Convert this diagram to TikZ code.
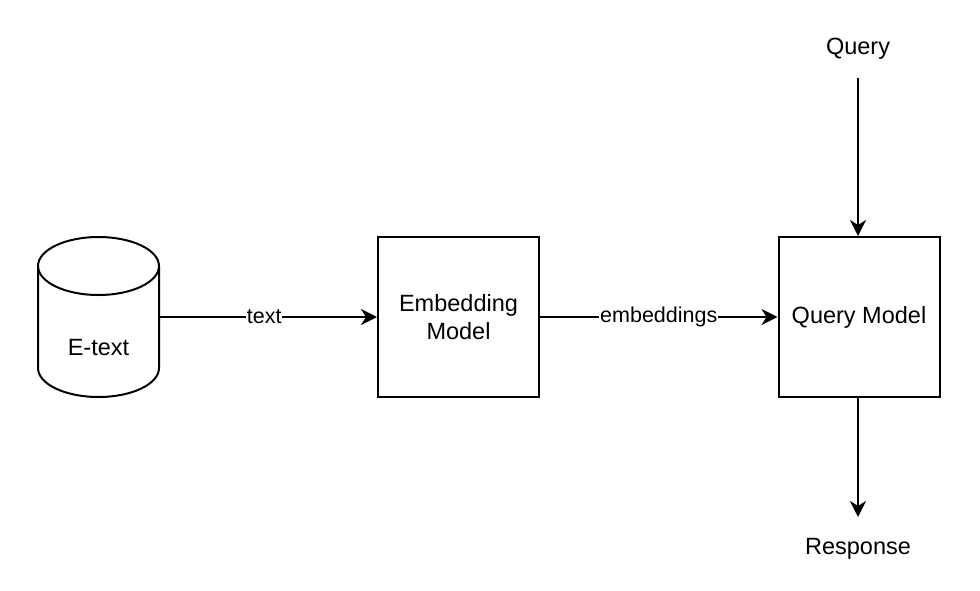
\documentclass[tikz,border=0pt]{standalone}
\usepackage{fontspec}
\setmainfont{Liberation Sans}
\usetikzlibrary{arrows.meta}
\begin{document}
\begin{tikzpicture}[x=1pt,y=1pt,
  line width=2pt,
  nodefont/.style={font=\fontsize{23.5}{28}\selectfont},
  edgefont/.style={font=\fontsize{21.5}{26}\selectfont},
  block/.style={draw, fill=white, minimum width=161pt, minimum height=160pt,
    inner sep=0pt, align=center, nodefont},
  plain/.style={inner sep=0pt, align=center, nodefont},
  flow/.style={-{Stealth[length=16pt,width=16pt,inset=5pt]}, line width=2pt},
  tag/.style={fill=white, inner sep=1pt, edgefont}]
\useasboundingbox (0,0) rectangle (980,-590);

% E-text cylinder (outline drawn by hand, label node on top)
\draw[fill=white] (38,-266) -- (38,-368)
  arc[start angle=180, end angle=360, x radius=60.5pt, y radius=29pt]
  -- (159,-266);
\draw (98.5,-266) ellipse [x radius=60.5pt, y radius=29pt];
\node[minimum width=121pt, minimum height=160pt, inner sep=0pt] (store) at (98.5,-317) {};
\node[plain] (storelabel) at (98.5,-348) {E-text};

% processing blocks
\node[block] (embed) at (458.5,-317) {Embedding\\Model};
\node[block] (qmodel) at (859,-317) {Query Model};

% free texts
\node[plain] (query) at (858,-49) {Query};
\node[plain] (resp) at (858,-549) {Response};
\coordinate (qtop) at (858,-78);
\coordinate (rbot) at (858,-517);

% connectors
\draw[flow] (store.east) -- node[tag, pos=0.48] {text} (embed.west);
\draw[flow] (embed.east) -- node[tag, pos=0.5] {embeddings} (qmodel.west);
\draw[flow] (qtop) -- (qmodel.north -| qtop);
\draw[flow] (qmodel.south -| rbot) -- (rbot);
\end{tikzpicture}
\end{document}
